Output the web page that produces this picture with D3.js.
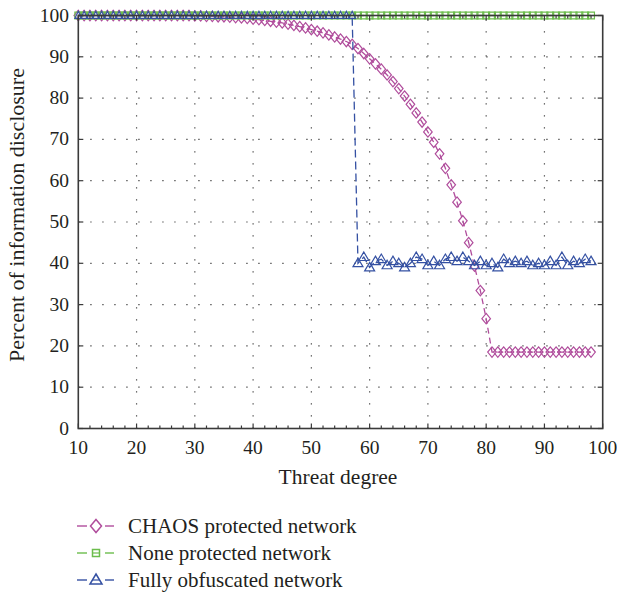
<!DOCTYPE html>
<html>
<head>
<meta charset="utf-8">
<script src="https://cdn.jsdelivr.net/npm/d3@7"></script>
<style>
  body { margin: 0; background: #fff; }
  svg text { font-family: "Liberation Serif", "Times New Roman", serif; fill: #231f20; }
</style>
</head>
<body>
<div id="chart"></div>
<script>
'use strict'

// threat degree 10..98, one point per unit
let threat = d3.range(10, 99)

// CHAOS protected network
let chaos = [
  100, 100, 100, 100, 100, 100, 100, 100, 100, 100,
  100, 100, 100, 100, 100, 100, 100, 100, 100, 100,
  99.9, 99.9, 99.8, 99.8, 99.7, 99.7, 99.6, 99.5, 99.4, 99.3,
  99.1, 99.0, 98.8, 98.6, 98.4, 98.2, 97.9, 97.6, 97.3, 97.0,
  96.6, 96.2, 95.8, 95.3, 94.8, 94.3, 93.7, 93.0, 92.0, 90.8,
  89.5, 88.3, 87.0, 85.6, 84.0, 82.3, 80.5, 78.5, 76.4, 74.2,
  71.8, 69.3, 66.5, 63.0, 59.0, 54.8, 50.3, 45.0, 39.3, 33.4,
  26.6, 18.5, 18.5, 18.5, 18.5, 18.5, 18.5, 18.5, 18.5, 18.5,
  18.5, 18.5, 18.5, 18.5, 18.5, 18.5, 18.5, 18.5, 18.5
]

// None protected network
let none = [
  100, 100, 100, 100, 100, 100, 100, 100, 100, 100,
  100, 100, 100, 100, 100, 100, 100, 100, 100, 100,
  100, 100, 100, 100, 100, 100, 100, 100, 100, 100,
  100, 100, 100, 100, 100, 100, 100, 100, 100, 100,
  100, 100, 100, 100, 100, 100, 100, 100, 100, 100,
  100, 100, 100, 100, 100, 100, 100, 100, 100, 100,
  100, 100, 100, 100, 100, 100, 100, 100, 100, 100,
  100, 100, 100, 100, 100, 100, 100, 100, 100, 100,
  100, 100, 100, 100, 100, 100, 100, 100, 100
]

// Fully obfuscated network
let fully = [
  100, 100, 100, 100, 100, 100, 100, 100, 100, 100,
  100, 100, 100, 100, 100, 100, 100, 100, 100, 100,
  100, 100, 100, 100, 100, 100, 100, 100, 100, 100,
  100, 100, 100, 100, 100, 100, 100, 100, 100, 100,
  100, 100, 100, 100, 100, 100, 100, 100,
  40, 41.5, 39, 40.5, 41, 39.5, 40.5, 40, 39, 40,
  41.5, 41, 39.5, 40.5, 39.5, 41, 41.5, 40.5, 41.5, 40.5,
  39.5, 40.5, 39.5, 40, 39, 41, 40, 40.5, 40, 40.5,
  39.5, 40, 39.5, 40.5, 39.5, 41.5, 39.5, 40.5, 40, 41, 40.5
]

let xTicks = [10, 20, 30, 40, 50, 60, 70, 80, 90, 100]
let yTicks = [0, 10, 20, 30, 40, 50, 60, 70, 80, 90, 100]
let labels = ['CHAOS protected network', 'None protected network', 'Fully obfuscated network']
let colors = ['#b04d9c', '#6cbd4c', '#3551a3']

let width = 617
let height = 595
let plotL = 78.3, plotR = 602.7, plotT = 15.5, plotB = 428.5

let x = d3.scaleLinear().domain([10, 100]).range([plotL, plotR])
let y = d3.scaleLinear().domain([0, 100]).range([plotB, plotT])

let svg = d3.select('#chart').append('svg')
  .attr('width', width)
  .attr('height', height)

// dotted grid
svg.append('g').selectAll('line')
  .data(xTicks.slice(1, -1))
  .enter().append('line')
  .attr('x1', d => x(d)).attr('x2', d => x(d))
  .attr('y1', plotB).attr('y2', plotT)
  .attr('stroke', '#444').attr('stroke-width', 1.2)
  .attr('stroke-dasharray', '1.3,10.7')

svg.append('g').selectAll('line')
  .data(yTicks.slice(1, -1))
  .enter().append('line')
  .attr('x1', plotL).attr('x2', plotR)
  .attr('y1', d => y(d)).attr('y2', d => y(d))
  .attr('stroke', '#444').attr('stroke-width', 1.2)
  .attr('stroke-dasharray', '1.3,10.7')

// marker shapes
function diamond(w, h) {
  return 'M0,' + (-h) + 'L' + w + ',0L0,' + h + 'L' + (-w) + ',0Z'
}
function square(s) {
  return 'M' + (-s) + ',' + (-s) + 'H' + s + 'V' + s + 'H' + (-s) + 'Z'
}
function triangle(w, h) {
  return 'M0,' + (-h * 0.6) + 'L' + w + ',' + (h * 0.4) + 'L' + (-w) + ',' + (h * 0.4) + 'Z'
}

let line = d3.line()
  .x(d => x(d[0]))
  .y(d => y(d[1]))

function drawSeries(vals, color, dash, shape) {
  let pts = threat.map((t, i) => [t, vals[i]])
  let g = svg.append('g')
  g.append('path')
    .datum(pts)
    .attr('d', line)
    .attr('fill', 'none')
    .attr('stroke', color)
    .attr('stroke-width', 1.3)
    .attr('stroke-dasharray', dash)
  g.selectAll('path.m')
    .data(pts)
    .enter().append('path')
    .attr('class', 'm')
    .attr('transform', d => 'translate(' + x(d[0]) + ',' + y(d[1]) + ')')
    .attr('d', shape)
    .attr('fill', 'none')
    .attr('stroke', color)
    .attr('stroke-width', 1.2)
}

drawSeries(chaos, colors[0], '6,4', d => diamond(4.3, 5.2))
drawSeries(none, colors[1], '6,4', d => square(3.4))
drawSeries(fully, colors[2], '8,4', d => d[1] > 99 ? triangle(3.4, 7) : triangle(5, 8.5))

// box with inward ticks
let axisColor = '#3a3a3a'
svg.append('rect')
  .attr('x', plotL).attr('y', plotT)
  .attr('width', plotR - plotL).attr('height', plotB - plotT)
  .attr('fill', 'none')
  .attr('stroke', axisColor)
  .attr('stroke-width', 1.6)

let minorX = d3.range(12, 100, 2).filter(v => v % 10 !== 0)
let tk = svg.append('g').attr('stroke', axisColor).attr('stroke-width', 1.2)
xTicks.forEach(v => {
  tk.append('line').attr('x1', x(v)).attr('x2', x(v)).attr('y1', plotB).attr('y2', plotB - 5)
  tk.append('line').attr('x1', x(v)).attr('x2', x(v)).attr('y1', plotT).attr('y2', plotT + 5)
})
minorX.forEach(v => {
  tk.append('line').attr('x1', x(v)).attr('x2', x(v)).attr('y1', plotB).attr('y2', plotB - 3)
  tk.append('line').attr('x1', x(v)).attr('x2', x(v)).attr('y1', plotT).attr('y2', plotT + 3)
})
yTicks.forEach(v => {
  tk.append('line').attr('x1', plotL).attr('x2', plotL + 5).attr('y1', y(v)).attr('y2', y(v))
  tk.append('line').attr('x1', plotR).attr('x2', plotR - 5).attr('y1', y(v)).attr('y2', y(v))
})

// tick labels
svg.append('g').selectAll('text')
  .data(xTicks)
  .enter().append('text')
  .attr('x', d => x(d))
  .attr('y', 454)
  .attr('text-anchor', 'middle')
  .style('font-size', '19.5px')
  .text(d => d)

svg.append('g').selectAll('text')
  .data(yTicks)
  .enter().append('text')
  .attr('x', 69)
  .attr('y', d => y(d) + 6)
  .attr('text-anchor', 'end')
  .style('font-size', '19.5px')
  .text(d => d)

// axis titles
svg.append('text')
  .attr('x', 338)
  .attr('y', 484)
  .attr('text-anchor', 'middle')
  .style('font-size', '21.5px')
  .text('Threat degree')

svg.append('text')
  .attr('transform', 'translate(24,215) rotate(-90)')
  .attr('text-anchor', 'middle')
  .style('font-size', '22px')
  .text('Percent of information disclosure')

// legend
let legendShapes = [
  diamond(5.5, 6.5),
  square(3.5),
  triangle(6, 10)
]
let legend = svg.selectAll('.legend')
  .data(labels)
  .enter().append('g')
  .attr('class', 'legend')
  .attr('transform', (d, i) => 'translate(0,' + (526 + i * 27) + ')')

legend.each(function (d, i) {
  let g = d3.select(this)
  g.append('line').attr('x1', 77).attr('x2', 87).attr('y1', 0).attr('y2', 0)
    .attr('stroke', colors[i]).attr('stroke-width', 1.4)
  g.append('line').attr('x1', 105).attr('x2', 114).attr('y1', 0).attr('y2', 0)
    .attr('stroke', colors[i]).attr('stroke-width', 1.4)
  if (i > 0) {
    g.append('line').attr('x1', 92).attr('x2', 100).attr('y1', 0).attr('y2', 0)
      .attr('stroke', colors[i]).attr('stroke-width', 1.2)
  }
  g.append('path')
    .attr('transform', 'translate(96,0)')
    .attr('d', legendShapes[i])
    .attr('fill', 'none')
    .attr('stroke', colors[i])
    .attr('stroke-width', 1.5)
  g.append('text')
    .attr('x', 128)
    .attr('y', 7)
    .style('font-size', '21px')
    .text(d)
})
</script>
</body>
</html>
